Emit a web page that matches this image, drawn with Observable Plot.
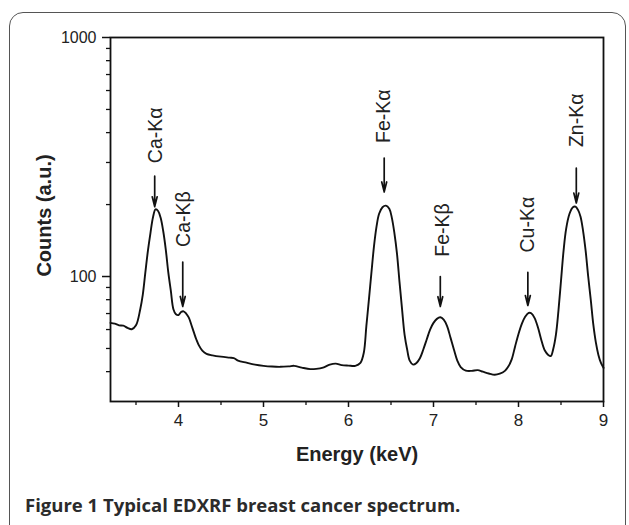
<!DOCTYPE html>
<html>
<head>
<meta charset="utf-8">
<script src="https://cdn.jsdelivr.net/npm/d3@7"></script>
<script src="https://cdn.jsdelivr.net/npm/@observablehq/plot@0.6"></script>
<style>
  html, body { margin: 0; padding: 0; background: #fff; overflow: hidden; }
  #wrap { position: relative; width: 629px; height: 525px; overflow: hidden; }
  #border { position: absolute; left: 9px; top: 12px; width: 617px; height: 560px;
            border: 1.5px solid #555; border-radius: 14px; box-sizing: border-box; }
  #chart { position: absolute; left: 0; top: 0; }
  #caption { position: absolute; left: 25px; top: 492px; font-family: "Open Sans", sans-serif;
             font-weight: 700; font-size: 18.5px; line-height: 1.362; color: #2b2b2b; white-space: nowrap; }
</style>
</head>
<body>
<div id="wrap">
  <div id="border"></div>
  <div id="chart"></div>
  <div id="caption">Figure 1 Typical EDXRF breast cancer spectrum.</div>
</div>
<script>
// Spectrum (energy in keV, counts in a.u.)
const energy = [3.20,3.25,3.30,3.35,3.40,3.45,3.50,3.55,3.58,3.61,3.64,3.67,3.70,3.73,3.76,3.79,3.82,3.85,3.88,3.91,3.94,3.97,4.00,4.03,4.06,4.09,4.12,4.15,4.18,4.21,4.24,4.28,4.33,4.40,4.50,4.60,4.65,4.70,4.80,4.90,5.00,5.10,5.20,5.30,5.36,5.45,5.55,5.62,5.70,5.78,5.85,5.92,6.00,6.08,6.14,6.18,6.21,6.24,6.27,6.30,6.33,6.36,6.40,6.44,6.48,6.51,6.54,6.57,6.60,6.63,6.66,6.69,6.72,6.76,6.80,6.84,6.88,6.92,6.96,7.00,7.04,7.08,7.12,7.16,7.20,7.24,7.28,7.32,7.38,7.45,7.52,7.58,7.65,7.72,7.78,7.84,7.88,7.92,7.96,8.00,8.04,8.08,8.12,8.15,8.19,8.23,8.27,8.31,8.35,8.38,8.41,8.44,8.47,8.50,8.53,8.56,8.60,8.64,8.67,8.70,8.73,8.76,8.79,8.82,8.85,8.88,8.91,8.94,8.97,9.00];
const counts = [64,63.5,62.5,62.3,61,60.2,62.5,73,84,104,128,152,177,191,188,176,155,130,104,87,73,69.5,69,71,71.5,70,67.5,63,58.5,54.5,51.5,49,47.5,46.8,46.2,45.8,45.6,44.5,43.6,42.8,42.3,42.0,41.9,42.1,42.3,41.6,41.0,41.1,41.6,42.8,43.2,42.6,42.4,42.3,43.5,48,62,80,104,134,162,183,195,198,192,176,152,125,95,73,57,49.5,44.5,42.8,43.5,45.5,49.5,54.5,60,64,66.5,67.5,66,62,55.5,49.5,44.5,41.8,40.4,40.3,40.6,40.0,39.3,38.8,39.2,40.3,42,45,51,57.5,63.5,68,70.5,70.2,67,61,54,49,47,46.5,50,57,72,96,128,158,183,195,196,190,178,155,128,100,80,63,53,47,43.5,41.5];

// Peak annotations
const peakNames   = ["Ca-Kα","Ca-Kβ","Fe-Kα","Fe-Kβ","Cu-Kα","Zn-Kα"];
const peakEnergy  = [3.72, 4.05, 6.42, 7.08, 8.11, 8.68];
const textEnergy  = [3.735, 4.06, 6.42, 7.11, 8.11, 8.68];
const arrowTop    = [263, 115, 313, 100, 104, 284];
const arrowTip    = [196, 75, 226, 75, 75.7, 203];
const labelStart  = [298, 133, 362, 121, 126, 348];

// Axis ticks
const xMajor = [4,5,6,7,8,9];
const xMinor = [3.5,4.5,5.5,6.5,7.5,8.5];
const yMajor = [100,1000];
const yMinor = [40,50,60,70,80,90,200,300,400,500,600,700,800,900];

const spectrum = energy.map((e,i) => ({e, c: counts[i]}));
const peaks = peakNames.map((n,i) => ({n, e: peakEnergy[i], te: textEnergy[i], top: arrowTop[i], tip: arrowTip[i], ls: labelStart[i]}));

const font = "'Liberation Sans', Arial, sans-serif";

const chart = Plot.plot({
  width: 629,
  height: 470,
  marginLeft: 110,
  marginRight: 26,
  marginTop: 37,
  marginBottom: 69,
  style: {fontFamily: font, background: "transparent", color: "#222"},
  x: {domain: [3.2, 9]},
  y: {type: "log", domain: [30, 1000]},
  marks: [
    Plot.axisX({ticks: xMajor, tickSize: 6, tickPadding: 6, fontSize: 17, tickFormat: d => String(d), label: null, stroke: "#111", strokeWidth: 1.5}),
    Plot.axisX({ticks: xMinor, tickSize: 4, tickFormat: () => "", label: null, stroke: "#111", strokeWidth: 1.3}),
    Plot.axisY({ticks: yMajor, tickSize: 8, tickPadding: 6, fontSize: 16, tickFormat: d => String(d), label: null, stroke: "#111", strokeWidth: 1.5}),
    Plot.axisY({ticks: yMinor, tickSize: 4, tickFormat: () => "", label: null, stroke: "#111", strokeWidth: 1.3}),
    Plot.frame({stroke: "#111", strokeWidth: 1.8}),
    Plot.line(spectrum, {x: "e", y: "c", curve: "catmull-rom", stroke: "#111", strokeWidth: 1.9}),
    Plot.arrow(peaks, {x1: "e", x2: "e", y1: "top", y2: "tip", stroke: "#111", strokeWidth: 1.7, headLength: 9, headAngle: 28}),
    Plot.text(peaks, {x: "te", y: "ls", text: "n", rotate: -90, textAnchor: "start", lineAnchor: "middle", fontSize: 19.5, fill: "#222"}),
    Plot.text(["Counts (a.u.)"], {frameAnchor: "left", dx: -66, dy: -4, rotate: -90, text: d => d, textAnchor: "middle", fontSize: 20, fontWeight: "bold", fill: "#222", lineAnchor: "middle"}),
    Plot.text(["Energy (keV)"], {frameAnchor: "bottom", dy: 53, text: d => d, textAnchor: "middle", fontSize: 20, fontWeight: "bold", fill: "#222", lineAnchor: "middle"})
  ]
});
document.getElementById("chart").appendChild(chart);
</script>
</body>
</html>
